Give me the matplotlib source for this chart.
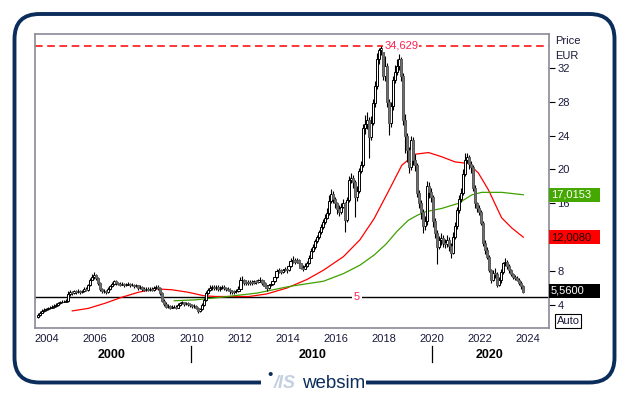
import numpy as np
import matplotlib.pyplot as plt
import matplotlib.transforms as mtransforms
from matplotlib.patches import FancyBboxPatch, Rectangle

plt.rcParams['font.family'] = ['Liberation Sans', 'DejaVu Sans']

# monthly candles, Aug 2003 .. Oct 2023 (open = previous close)
start_year, start_month = 2003, 8
first_open = 2.6
close = [
    2.8, 3.1, 3.3, 3.4, 3.5,                                      # 2003
    3.6, 3.7, 3.8, 3.9, 4.0, 4.2, 4.3, 4.4, 4.4, 4.5, 5.3, 5.5,   # 2004
    5.4, 5.6, 5.5, 5.7, 5.5, 5.6, 5.9, 5.8, 6.3, 7.0, 7.3, 7.5,   # 2005
    7.2, 6.6, 5.9, 5.6, 5.7, 5.5, 5.9, 6.2, 6.5, 6.8, 6.6, 6.5,   # 2006
    6.4, 6.5, 6.3, 6.4, 6.5, 6.3, 6.4, 6.2, 6.3, 6.0, 6.1, 5.9,   # 2007
    5.8, 5.9, 5.8, 5.9, 5.8, 6.0, 6.1, 6.0, 5.4, 4.5, 4.1, 3.8,   # 2008
    3.9, 3.7, 3.8, 3.8, 3.7, 4.0, 4.2, 4.3, 4.1, 4.2, 4.1, 4.0,   # 2009
    3.9, 3.9, 3.7, 3.3, 3.5, 4.0, 4.6, 5.4, 5.8, 6.0, 6.1, 6.0,   # 2010
    6.1, 5.9, 6.0, 6.1, 6.0, 5.9, 5.8, 5.6, 5.5, 5.6, 5.6, 5.9,   # 2011
    6.9, 7.0, 6.6, 6.7, 6.6, 6.7, 6.6, 6.8, 6.7, 6.9, 7.0, 6.6,   # 2012
    6.2, 6.0, 6.3, 6.5, 6.8, 7.3, 8.0, 8.1, 7.9, 8.1, 8.3, 8.1,   # 2013
    8.6, 9.2, 9.3, 9.1, 9.3, 8.9, 8.4, 8.3, 8.6, 8.9, 9.6, 10.4,  # 2014
    10.8, 11.5, 12.0, 12.6, 13.2, 13.8, 14.3, 14.9, 16.3, 17.1, 16.5, 16.0,  # 2015
    15.3, 15.0, 15.6, 16.0, 14.0, 16.4, 18.8, 19.0, 18.5, 16.7, 17.5, 19.8,  # 2016
    20.5, 24.9, 25.4, 25.9, 23.8, 25.5, 27.8, 29.8, 33.0, 34.1, 34.4, 31.0,  # 2017
    32.2, 28.0, 25.5, 27.5, 30.6, 31.5, 32.2, 33.0, 31.0, 25.9, 23.9, 22.3,  # 2018
    20.3, 23.5, 21.1, 20.5, 17.2, 16.0, 15.0, 13.3, 13.9, 18.0, 17.4, 16.8,  # 2019
    13.9, 12.5, 10.9, 11.7, 11.9, 11.3, 11.2, 11.7, 11.0, 10.1, 12.0, 13.3,  # 2020
    15.2, 16.5, 17.2, 19.5, 21.1, 21.5, 20.6, 20.3, 17.8, 16.0, 15.5, 15.0,  # 2021
    13.7, 11.3, 10.5, 9.7, 8.1, 7.0, 7.8, 7.6, 6.4, 6.9, 7.9, 8.9,           # 2022
    9.1, 8.6, 8.1, 7.6, 7.3, 7.2, 7.0, 6.6, 6.2, 5.56,                        # 2023
]
high = [
    3.0, 3.3, 3.5, 3.6, 3.7,
    3.8, 3.9, 4.0, 4.1, 4.2, 4.4, 4.5, 4.6, 4.6, 4.7, 5.6, 5.8,
    5.7, 5.8, 5.8, 5.9, 5.8, 5.8, 6.1, 6.1, 6.5, 7.2, 7.6, 7.9,
    7.7, 7.3, 6.7, 6.0, 5.9, 5.8, 6.1, 6.4, 6.7, 7.0, 6.9, 6.7,
    6.7, 6.7, 6.6, 6.6, 6.7, 6.6, 6.6, 6.5, 6.5, 6.4, 6.3, 6.2,
    6.1, 6.1, 6.1, 6.1, 6.1, 6.2, 6.3, 6.3, 6.1, 5.5, 4.7, 4.3,
    4.1, 4.0, 4.0, 4.0, 4.0, 4.2, 4.4, 4.5, 4.4, 4.4, 4.3, 4.2,
    4.1, 4.1, 4.0, 3.8, 3.7, 4.2, 4.8, 5.6, 6.0, 6.3, 6.3, 6.3,
    6.3, 6.3, 6.2, 6.3, 6.3, 6.1, 6.1, 6.0, 5.8, 5.8, 5.9, 6.2,
    7.3, 7.4, 7.1, 6.9, 6.9, 6.9, 6.9, 7.0, 7.0, 7.1, 7.3, 7.1,
    6.7, 6.4, 6.5, 6.7, 7.0, 7.5, 8.2, 8.4, 8.3, 8.3, 8.5, 8.4,
    8.9, 9.6, 9.8, 9.5, 9.6, 9.4, 9.0, 8.7, 8.9, 9.2, 9.9, 10.7,
    11.2, 11.8, 12.3, 12.9, 13.6, 14.1, 14.7, 15.5, 17.0, 17.7, 17.4, 16.8,
    16.2, 15.8, 16.0, 16.5, 16.2, 16.8, 19.2, 19.6, 19.3, 18.8, 18.0, 20.2,
    21.0, 25.4, 26.4, 26.8, 26.2, 26.3, 28.3, 30.4, 33.8, 34.4, 34.629, 34.5,
    33.4, 32.6, 28.3, 28.0, 31.0, 32.3, 33.0, 33.6, 33.3, 31.4, 26.5, 24.3,
    22.6, 24.0, 23.8, 21.8, 20.8, 17.6, 16.4, 15.3, 14.5, 18.6, 18.5, 17.8,
    17.0, 14.3, 12.8, 12.1, 12.5, 12.3, 11.8, 12.3, 12.0, 11.3, 12.6, 13.8,
    15.6, 17.0, 17.8, 20.1, 21.9, 22.0, 21.7, 21.0, 20.5, 18.2, 16.2, 15.8,
    15.2, 13.9, 11.7, 10.8, 9.9, 8.3, 8.1, 8.4, 7.9, 7.3, 8.2, 9.1,
    9.6, 9.3, 8.8, 8.2, 7.8, 7.5, 7.4, 7.2, 6.8, 6.3,
]
low = [
    2.5, 2.7, 3.0, 3.2, 3.3,
    3.4, 3.5, 3.6, 3.7, 3.8, 3.9, 4.1, 4.2, 4.3, 4.3, 4.4, 5.1,
    5.2, 5.3, 5.3, 5.4, 5.3, 5.4, 5.5, 5.6, 5.7, 6.2, 6.9, 7.1,
    7.0, 6.4, 5.7, 5.4, 5.4, 5.3, 5.4, 5.8, 6.1, 6.4, 6.4, 6.3,
    6.2, 6.3, 6.1, 6.2, 6.3, 6.1, 6.2, 6.0, 6.1, 5.8, 5.9, 5.7,
    5.6, 5.7, 5.6, 5.7, 5.6, 5.7, 5.9, 5.8, 5.2, 4.3, 3.9, 3.6,
    3.6, 3.5, 3.6, 3.6, 3.5, 3.6, 3.9, 4.1, 3.9, 4.0, 3.9, 3.8,
    3.7, 3.7, 3.5, 3.0, 3.2, 3.4, 3.9, 4.5, 5.3, 5.7, 5.8, 5.8,
    5.8, 5.7, 5.7, 5.9, 5.8, 5.7, 5.6, 5.3, 5.3, 5.3, 5.4, 5.5,
    5.8, 6.7, 6.4, 6.4, 6.4, 6.4, 6.4, 6.5, 6.5, 6.6, 6.7, 6.4,
    6.0, 5.7, 5.9, 6.2, 6.4, 6.7, 7.2, 7.8, 7.6, 7.8, 8.0, 7.8,
    8.0, 8.5, 9.0, 8.8, 8.9, 8.7, 8.2, 8.0, 8.2, 8.5, 8.8, 9.5,
    10.2, 10.6, 11.3, 11.8, 12.4, 13.0, 13.6, 14.1, 14.6, 16.0, 16.1, 15.5,
    14.8, 14.5, 14.7, 15.4, 12.6, 13.8, 16.2, 18.4, 17.8, 14.4, 16.3, 17.2,
    19.6, 20.3, 24.2, 24.8, 21.3, 23.5, 25.2, 27.4, 29.5, 32.4, 33.5, 30.6,
    30.5, 27.4, 24.1, 25.0, 27.0, 30.2, 31.2, 31.8, 30.5, 25.2, 22.0, 20.9,
    19.6, 19.9, 20.5, 19.8, 16.8, 15.4, 14.2, 12.5, 12.8, 13.5, 16.6, 16.2,
    13.2, 11.9, 8.8, 10.6, 11.1, 10.8, 10.7, 10.9, 10.4, 9.6, 10.0, 11.8,
    13.0, 14.9, 16.2, 17.0, 19.2, 20.8, 20.0, 19.6, 17.4, 15.5, 15.0, 14.6,
    13.4, 11.0, 10.0, 9.4, 7.9, 6.6, 6.8, 7.2, 6.1, 6.2, 6.6, 7.6,
    8.6, 8.3, 7.8, 7.4, 7.1, 6.9, 6.8, 6.4, 5.9, 5.4,
]

# moving averages (year, value)
ma_red_t = [2005.05, 2005.72, 2006.41, 2007.1, 2007.8, 2008.49, 2009.18, 2009.87, 2010.5, 2011.0,
            2011.7, 2012.4, 2013.13, 2013.97, 2014.8, 2015.49, 2016.32, 2017.01, 2017.6, 2018.19,
            2018.75, 2019.3, 2019.86, 2020.41, 2020.96, 2021.52, 2021.93, 2022.35, 2022.9, 2023.32, 2023.8]
ma_red_v = [3.3, 3.6, 4.2, 4.9, 5.5, 5.9, 5.8, 5.5, 5.1, 5.0,
            5.0, 5.0, 5.3, 6.0, 7.0, 8.1, 9.7, 11.7, 14.2, 17.4,
            20.5, 21.8, 22.0, 21.5, 20.9, 20.7, 19.6, 17.6, 14.3, 13.1, 12.008]
ma_green_t = [2009.29, 2010.15, 2011.2, 2012.72, 2014.1, 2015.49, 2016.32, 2017.01, 2017.6, 2018.1,
              2018.55, 2019.02, 2019.4, 2019.72, 2020.41, 2021.1, 2021.66, 2022.07, 2022.9, 2023.8]
ma_green_v = [4.5, 4.6, 4.9, 5.4, 6.2, 6.8, 7.7, 8.7, 9.9, 11.2,
              12.7, 14.0, 14.6, 15.0, 15.4, 16.0, 17.0, 17.3, 17.3, 17.0153]

peak = 34.629
support = 5
last_price = 5.56
ytick_vals = [4, 8, 12, 16, 20, 24, 28, 32]
ytick_labels = ['4', '8', '', '16', '20', '24', '28', '32']
xtick_vals = list(range(2004, 2025, 2))
decades = [('2000', 2006.7), ('2010', 2015.05), ('2020', 2022.4)]
decade_breaks = [2010, 2020]

W, H = 629, 395
fig = plt.figure(figsize=(W / 100, H / 100), dpi=100)
ax = fig.add_axes([35 / W, 1 - 328 / H, 514 / W, 294 / H])

# candles
n = len(close)
t = np.array([start_year + (start_month - 1 + i + 0.5) / 12 for i in range(n)])
c = np.array(close)
o = np.concatenate([[first_open], c[:-1]])
hi = np.array(high)
lo = np.array(low)
up = c >= o
ax.vlines(t, lo, hi, color='black', lw=0.8, zorder=3)
bw = 0.09
ax.bar(t[up], (c - o)[up], bottom=o[up], width=bw, facecolor='white', edgecolor='black', lw=0.7, zorder=4)
ax.bar(t[~up], (o - c)[~up], bottom=c[~up], width=bw, facecolor='#707070', edgecolor='#5a5a5a', lw=0.7, zorder=4)

ax.plot(ma_red_t, ma_red_v, color='#ff0000', lw=0.9, zorder=2)
ax.plot(ma_green_t, ma_green_v, color='#3fa000', lw=0.9, zorder=2)

ax.axhline(peak, color='#ff0000', lw=1.1, ls=(0, (5, 3)), zorder=1)
ax.text(2018.72, peak, '34,629', color='#ff2050', fontsize=8, ha='center', va='center',
        bbox=dict(facecolor='white', edgecolor='none', pad=1), zorder=5)
ax.axhline(support, color='black', lw=1.0, zorder=1)
ax.text(2016.89, support, '5', color='#ff2050', fontsize=8, ha='center', va='center',
        bbox=dict(facecolor='white', edgecolor='none', pad=1.5), zorder=5)

ax.set_xlim(2003.5, 2024.87)
ax.set_ylim(1.28, 36.0)

for s in ax.spines.values():
    s.set_color('#8a8a9a')
    s.set_linewidth(1.2)

ax.yaxis.tick_right()
ax.set_yticks(ytick_vals, ytick_labels)
ax.tick_params(axis='y', length=4, width=0.8, color='black', labelsize=8, labelcolor='#1a1a3a', pad=2)
ax.set_xticks(xtick_vals)
ax.tick_params(axis='x', length=0, labelsize=8, labelcolor='#1a1a3a', pad=4)

# value boxes on the right
blend = mtransforms.blended_transform_factory(ax.transAxes, ax.transData)
for val, label, bg, fg in [(17.0153, '17,0153', '#44a800', 'white'),
                           (12.008, '12,0080', '#ff0000', '#200000'),
                           (5.65, '5,5600', 'black', 'white')]:
    ax.add_patch(Rectangle((1.0, val - 0.85), 0.099, 1.7, transform=blend, facecolor=bg,
                           edgecolor='none', clip_on=False, zorder=6))
    ax.text(1.004, val, label, transform=blend, color=fg, fontsize=8, ha='left', va='center',
            clip_on=False, zorder=7)
ax.text(1.037, 2.1, 'Auto', transform=blend, fontsize=8, ha='center', va='center', color='#1a1a3a',
        bbox=dict(facecolor='white', edgecolor='black', lw=0.8, pad=1.2), clip_on=False)

fig.text(555 / W, 1 - 41 / H, 'Price', fontsize=8, color='#1a1a3a', ha='left', va='center')
fig.text(555 / W, 1 - 56 / H, 'EUR', fontsize=8, color='#1a1a3a', ha='left', va='center')

# decade labels under the year axis
dblend = mtransforms.blended_transform_factory(ax.transData, fig.transFigure)
for lab, xpos in decades:
    ax.text(xpos, 1 - 355 / H, lab, transform=dblend, fontsize=9, fontweight='bold',
            ha='center', va='center', clip_on=False)
for xb in decade_breaks:
    ax.plot([xb, xb], [1 - 346 / H, 1 - 362 / H], transform=dblend, color='black', lw=0.9, clip_on=False)

# outer rounded frame with the logo gap
navy = '#0b2d5b'
frame = FancyBboxPatch((0.145, 0.125), 6.0, 3.685, boxstyle='round,pad=0,rounding_size=0.25',
                       transform=fig.dpi_scale_trans, facecolor='none', edgecolor=navy, lw=2.8)
fig.add_artist(frame)
fig.add_artist(Rectangle((2.61, 0.05), 1.05, 0.15, transform=fig.dpi_scale_trans,
                         facecolor='white', edgecolor='none'))
fig.text(2.70, 0.20, '\u2022', transform=fig.dpi_scale_trans, color=navy, fontsize=11, ha='center', va='center')
fig.text(2.74, 0.07, '/IS', transform=fig.dpi_scale_trans, color='#c3d0e0', fontsize=13,
         fontweight='bold', style='italic', ha='left', va='baseline')
fig.text(3.02, 0.07, 'websim', transform=fig.dpi_scale_trans, color=navy, fontsize=13.5,
         ha='left', va='baseline')

fig.savefig('out.png', dpi=100)
